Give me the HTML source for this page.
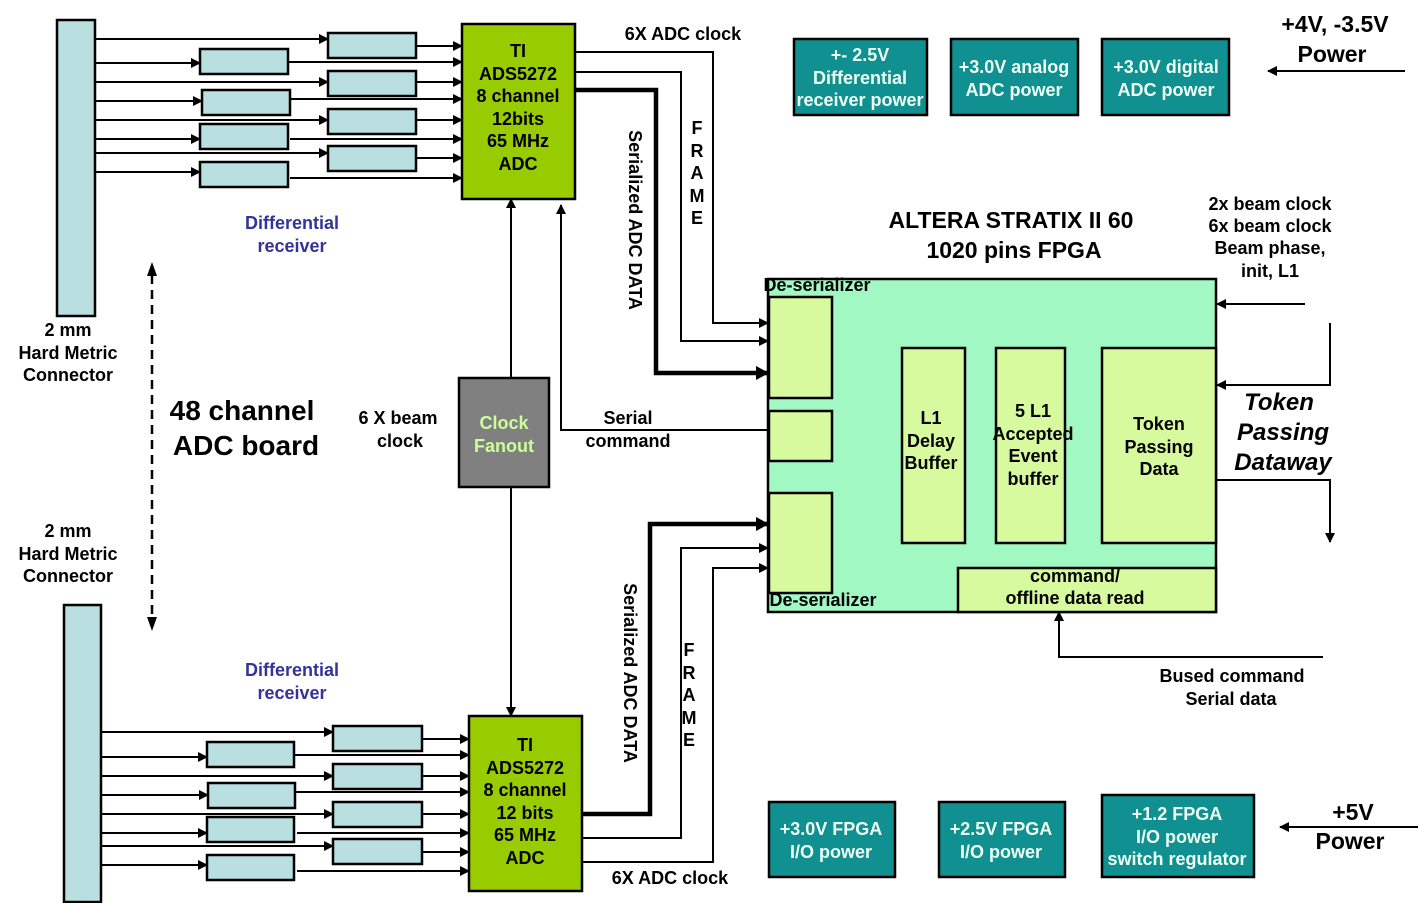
<!DOCTYPE html>
<html><head><meta charset="utf-8"><style>
html,body{margin:0;padding:0;background:#fff;}
svg{display:block;font-family:"Liberation Sans",Arial,sans-serif;font-weight:bold;}
</style></head><body>
<svg width="1418" height="903" viewBox="0 0 1418 903" xmlns="http://www.w3.org/2000/svg">
<defs>
<marker id="a" markerWidth="10" markerHeight="10" refX="9" refY="5" orient="auto" markerUnits="userSpaceOnUse"><path d="M0,0 L10,5 L0,10 z" fill="#000"/></marker>
<marker id="ab" markerWidth="14" markerHeight="14" refX="12" refY="7" orient="auto" markerUnits="userSpaceOnUse"><path d="M0,0 L13,7 L0,14 z" fill="#000"/></marker>
</defs>
<g stroke="#000" stroke-width="2.5" fill="#b9dfe1">
<!-- top connector and receivers -->
<rect x="57" y="20" width="38" height="296"/>
<rect x="328" y="33" width="88" height="25"/><rect x="328" y="71" width="88" height="25"/><rect x="328" y="109" width="88" height="25"/><rect x="328" y="146" width="88" height="25"/>
<rect x="200" y="49" width="88" height="25"/><rect x="202" y="90" width="88" height="25"/><rect x="200" y="124" width="88" height="25"/><rect x="200" y="162" width="88" height="25"/>
<!-- bottom -->
<rect x="64" y="605" width="37" height="297"/>
<rect x="333" y="726" width="89" height="25"/><rect x="333" y="764" width="89" height="25"/><rect x="333" y="802" width="89" height="25"/><rect x="333" y="839" width="89" height="25"/>
<rect x="207" y="742" width="87" height="25"/><rect x="208" y="783" width="87" height="25"/><rect x="207" y="817" width="87" height="25"/><rect x="207" y="855" width="87" height="25"/>
</g>
<g stroke="#000" stroke-width="2" fill="none" marker-end="url(#a)">
<line x1="95" y1="39" x2="328" y2="39"/><line x1="95" y1="63" x2="200" y2="63"/>
<line x1="95" y1="82" x2="328" y2="82"/><line x1="95" y1="101" x2="202" y2="101"/>
<line x1="95" y1="120" x2="328" y2="120"/><line x1="95" y1="139" x2="200" y2="139"/>
<line x1="95" y1="153" x2="328" y2="153"/><line x1="95" y1="172" x2="200" y2="172"/>
<line x1="416" y1="46" x2="462" y2="46"/><line x1="288" y1="62" x2="462" y2="62"/>
<line x1="416" y1="82" x2="462" y2="82"/><line x1="290" y1="99" x2="462" y2="99"/>
<line x1="416" y1="120" x2="462" y2="120"/><line x1="290" y1="139" x2="462" y2="139"/>
<line x1="416" y1="158" x2="462" y2="158"/><line x1="290" y1="178" x2="462" y2="178"/>

<line x1="101" y1="732" x2="333" y2="732"/><line x1="101" y1="757" x2="207" y2="757"/>
<line x1="101" y1="776" x2="333" y2="776"/><line x1="101" y1="795" x2="208" y2="795"/>
<line x1="101" y1="814" x2="333" y2="814"/><line x1="101" y1="833" x2="207" y2="833"/>
<line x1="101" y1="846" x2="333" y2="846"/><line x1="101" y1="865" x2="207" y2="865"/>
<line x1="422" y1="739" x2="469" y2="739"/><line x1="294" y1="755" x2="469" y2="755"/>
<line x1="422" y1="776" x2="469" y2="776"/><line x1="295" y1="792" x2="469" y2="792"/>
<line x1="422" y1="814" x2="469" y2="814"/><line x1="297" y1="833" x2="469" y2="833"/>
<line x1="422" y1="852" x2="469" y2="852"/><line x1="297" y1="871" x2="469" y2="871"/>

<!-- top ADC to FPGA -->
<polyline points="575,52 713,52 713,323 768,323"/>
<polyline points="575,72 681,72 681,341 768,341"/>
<polyline points="768,430 561,430 561,205"/>
<line x1="511" y1="378" x2="511" y2="199"/>
<line x1="511" y1="487" x2="511" y2="716"/>
<polyline points="582,838 681,838 681,548 768,548"/>
<polyline points="582,862 713,862 713,568 768,568"/>
<line x1="832" y1="360" x2="894" y2="360"/>
<line x1="832" y1="537" x2="902" y2="537"/>
<line x1="965" y1="435" x2="996" y2="435"/>
<line x1="1065" y1="441" x2="1102" y2="441"/>
<line x1="1305" y1="304" x2="1217" y2="304"/>
<polyline points="1330,323 1330,385 1217,385"/>
<polyline points="1216,480 1330,480 1330,542"/>
<polyline points="1323,657 1059,657 1059,612"/>
<line x1="1405" y1="71" x2="1268" y2="71"/>
<line x1="1418" y1="827" x2="1280" y2="827"/>
</g>
<g stroke="#000" stroke-width="4.5" fill="none" marker-end="url(#ab)">
<polyline points="575,90 656,90 656,373 768,373"/>
<polyline points="582,814 650,814 650,524 768,524"/>
</g>
<line x1="152" y1="275" x2="152" y2="618" stroke="#000" stroke-width="2.5" stroke-dasharray="9,6"/>
<path d="M147,276 L152,262 L157,276 z M147,617 L152,631 L157,617 z" fill="#000"/>

<!-- ADCs -->
<rect x="462" y="24" width="113" height="175" fill="#99cc00" stroke="#000" stroke-width="2.5"/>
<rect x="469" y="716" width="113" height="175" fill="#99cc00" stroke="#000" stroke-width="2.5"/>
<rect x="459" y="378" width="90" height="109" fill="#808080" stroke="#000" stroke-width="2.5"/>
<g font-size="18" text-anchor="middle">
<text x="518" y="57">TI</text><text x="518" y="80">ADS5272</text><text x="518" y="102">8 channel</text><text x="518" y="125">12bits</text><text x="518" y="147">65 MHz</text><text x="518" y="170">ADC</text>
<text x="525" y="751">TI</text><text x="525" y="774">ADS5272</text><text x="525" y="796">8 channel</text><text x="525" y="819">12 bits</text><text x="525" y="841">65 MHz</text><text x="525" y="864">ADC</text>
<text x="504" y="429" fill="#ccff99">Clock</text><text x="504" y="452" fill="#ccff99">Fanout</text>
</g>

<!-- FPGA -->
<rect x="768" y="279" width="448" height="333" fill="#a2f8c2" stroke="#000" stroke-width="2.5"/>
<g fill="#d8fa9e" stroke="#000" stroke-width="2.5">
<rect x="769" y="297" width="63" height="101"/><rect x="769" y="411" width="63" height="50"/><rect x="769" y="493" width="63" height="100"/>
<rect x="902" y="348" width="63" height="195"/><rect x="996" y="348" width="69" height="195"/><rect x="1102" y="348" width="114" height="195"/>
<rect x="958" y="568" width="258" height="44"/>
</g>
<g font-size="18" text-anchor="middle">
<text x="931" y="424">L1</text><text x="931" y="447">Delay</text><text x="931" y="469">Buffer</text>
<text x="1033" y="417">5 L1</text><text x="1033" y="440">Accepted</text><text x="1033" y="462">Event</text><text x="1033" y="485">buffer</text>
<text x="1159" y="430">Token</text><text x="1159" y="453">Passing</text><text x="1159" y="475">Data</text>
<text x="1075" y="582">command/</text><text x="1075" y="604">offline data read</text>
<text x="817" y="291">De-serializer</text><text x="823" y="606">De-serializer</text>
<text x="1011" y="228" font-size="23">ALTERA  STRATIX II 60</text>
<text x="1014" y="258" font-size="23">1020 pins FPGA</text>
<text x="1270" y="210">2x beam clock</text><text x="1270" y="232">6x beam clock</text><text x="1270" y="254">Beam phase,</text><text x="1270" y="277">init, L1</text>
<g font-size="24" font-style="italic"><text x="1279" y="410">Token</text><text x="1283" y="440">Passing</text><text x="1283" y="470">Dataway</text></g>
<text x="1232" y="682">Bused command</text><text x="1231" y="705">Serial data</text>
<text x="1335" y="32" font-size="23">+4V, -3.5V</text><text x="1332" y="62" font-size="23">Power</text>
<text x="1353" y="820" font-size="23">+5V</text><text x="1350" y="849" font-size="23">Power</text>
<text x="683" y="40">6X ADC clock</text><text x="670" y="884">6X ADC clock</text>
<text x="628" y="424">Serial</text><text x="628" y="447">command</text>
<text x="398" y="424">6 X beam</text><text x="400" y="447">clock</text>
<text x="68" y="336">2 mm</text><text x="68" y="359">Hard Metric</text><text x="68" y="381">Connector</text>
<text x="68" y="537">2 mm</text><text x="68" y="560">Hard Metric</text><text x="68" y="582">Connector</text>
<text x="242" y="420" font-size="28">48 channel</text><text x="246" y="455" font-size="28">ADC board</text>
<g fill="#333399"><text x="292" y="229">Differential</text><text x="292" y="252">receiver</text><text x="292" y="676">Differential</text><text x="292" y="699">receiver</text></g>
<g font-size="18"><text x="697" y="134">F</text><text x="697" y="157">R</text><text x="697" y="179">A</text><text x="697" y="202">M</text><text x="697" y="224">E</text>
<text x="689" y="656">F</text><text x="689" y="679">R</text><text x="689" y="701">A</text><text x="689" y="724">M</text><text x="689" y="746">E</text></g>
<text transform="translate(629,220) rotate(90)" font-size="18">Serialized ADC DATA</text>
<text transform="translate(624,673) rotate(90)" font-size="18">Serialized ADC DATA</text>
</g>

<!-- power boxes -->
<g fill="#109090" stroke="#000" stroke-width="2.5">
<rect x="794" y="39" width="133" height="76"/><rect x="951" y="39" width="127" height="76"/><rect x="1102" y="39" width="127" height="76"/>
<rect x="769" y="802" width="126" height="75"/><rect x="939" y="802" width="126" height="75"/><rect x="1102" y="795" width="152" height="82"/>
</g>
<g font-size="18" text-anchor="middle" fill="#eefff4">
<text x="860" y="61">+- 2.5V</text><text x="860" y="84">Differential</text><text x="860" y="106">receiver power</text>
<text x="1014" y="73">+3.0V analog</text><text x="1014" y="96">ADC power</text>
<text x="1166" y="73">+3.0V digital</text><text x="1166" y="96">ADC power</text>
<text x="831" y="835">+3.0V FPGA</text><text x="831" y="858">I/O power</text>
<text x="1001" y="835">+2.5V FPGA</text><text x="1001" y="858">I/O power</text>
<text x="1177" y="820">+1.2 FPGA</text><text x="1177" y="843">I/O power</text><text x="1177" y="865">switch regulator</text>
</g>
</svg>
</body></html>
